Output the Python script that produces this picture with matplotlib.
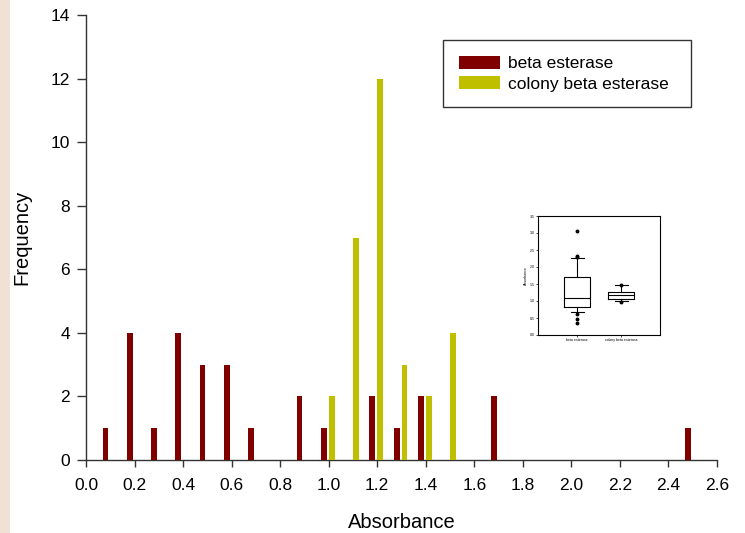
import matplotlib
matplotlib.use("Agg")
import matplotlib.pyplot as plt
from matplotlib.patches import Rectangle

plt.rcParams['font.family'] = ['Liberation Sans', 'DejaVu Sans']

# Histogram data (bin centres, counts)
beta_bins = [0.1, 0.2, 0.3, 0.4, 0.5, 0.6, 0.7, 0.9, 1.0, 1.2, 1.3, 1.4, 1.7, 2.5]
beta_counts = [1, 4, 1, 4, 3, 3, 1, 2, 1, 2, 1, 2, 2, 1]
colony_bins = [1.0, 1.1, 1.2, 1.3, 1.4, 1.5]
colony_counts = [2, 7, 12, 3, 2, 4]
x_ticks = [0.0, 0.2, 0.4, 0.6, 0.8, 1.0, 1.2, 1.4, 1.6, 1.8, 2.0, 2.2, 2.4, 2.6]
y_ticks = [0, 2, 4, 6, 8, 10, 12, 14]
series_names = ["beta esterase", "colony beta esterase"]

# Inset boxplot summary stats
box_labels = ["beta esterase", "colony beta esterase"]
box_q1 = [0.83, 1.07]
box_med = [1.09, 1.17]
box_q3 = [1.71, 1.26]
box_whislo = [0.68, 1.00]
box_whishi = [2.26, 1.46]
box_fliers = [[3.05, 2.32, 2.28, 0.62, 0.47, 0.35], [1.48, 0.98]]
inset_yticks = [0.0, 0.5, 1.0, 1.5, 2.0, 2.5, 3.0, 3.5]

maroon = '#800000'
olive = '#bfbf00'

W, H = 745, 533
fig = plt.figure(figsize=(W / 100, H / 100), dpi=100)
fig.patch.set_facecolor('white')
# beige strip at left edge
fig.patches.append(Rectangle((0, 0), 10 / W, 1, transform=fig.transFigure,
                             facecolor='#efe2d4', edgecolor='none', zorder=0))

ax = fig.add_axes([86 / W, 73 / H, 631 / W, 445 / H])
bw = 0.024
ax.bar([b - 0.02 for b in beta_bins], beta_counts, width=bw, color=maroon,
       label=series_names[0], zorder=3)
ax.bar([b + 0.012 for b in colony_bins], colony_counts, width=bw, color=olive,
       label=series_names[1], zorder=3)

ax.set_xlim(0, 2.6)
ax.set_ylim(0, 14)
ax.set_xticks(x_ticks)
ax.set_xticklabels([f"{t:.1f}" for t in x_ticks])
ax.set_yticks(y_ticks)
ax.spines['top'].set_visible(False)
ax.spines['right'].set_visible(False)
for s in ['left', 'bottom']:
    ax.spines[s].set_color('#333333')
    ax.spines[s].set_linewidth(1.0)
ax.tick_params(axis='x', direction='out', length=5, width=1, colors='#333333',
               labelsize=12.5, labelcolor='black', pad=8)
ax.tick_params(axis='y', direction='out', length=6.5, width=1, colors='#333333',
               labelsize=12.5, labelcolor='black', pad=5)
ax.set_xlabel("Absorbance", fontsize=14.5)
ax.set_ylabel("Frequency", fontsize=14.5)
ax.xaxis.set_label_coords(0.5, (460 - 513) / 445)
ax.yaxis.set_label_coords((31 - 86) / 631, 0.5)

lx0, lx1 = (443 - 86) / 631, (691 - 86) / 631
ly1, ly0 = (460 - 40) / 445, (460 - 107) / 445
leg = ax.legend(loc='upper left', bbox_to_anchor=(lx0, ly0, lx1 - lx0, ly1 - ly0),
                mode='expand',
                fontsize=12.5, frameon=True, fancybox=False, edgecolor='black',
                handlelength=2.36, handleheight=0.8, borderpad=0.9,
                labelspacing=0.28, handletextpad=0.5, borderaxespad=0)
leg.get_frame().set_linewidth(1.0)

# Inset boxplot
axi = fig.add_axes([538 / W, (H - 335) / H, 122 / W, 119 / H])
stats = []
for i in range(2):
    stats.append(dict(label=box_labels[i], q1=box_q1[i], med=box_med[i],
                      q3=box_q3[i], whislo=box_whislo[i], whishi=box_whishi[i],
                      fliers=box_fliers[i]))
axi.bxp(stats, positions=[1, 2], widths=0.6,
        boxprops=dict(linewidth=0.8, color='black'),
        medianprops=dict(linewidth=0.8, color='black'),
        whiskerprops=dict(linewidth=0.8),
        capprops=dict(linewidth=0.8),
        flierprops=dict(marker='o', markersize=1.8, markerfacecolor='black',
                        markeredgecolor='black'))
axi.set_xlim(0.11, 2.88)
axi.set_ylim(0, 3.5)
axi.set_yticks(inset_yticks)
axi.set_yticklabels([f"{t:.1f}" for t in inset_yticks])
axi.tick_params(labelsize=2.5, length=1.5, width=0.5, pad=1)
axi.set_ylabel("Absorbance", fontsize=2.5, labelpad=1)
for s in axi.spines.values():
    s.set_linewidth(0.8)

fig.savefig("out.png", dpi=100)
